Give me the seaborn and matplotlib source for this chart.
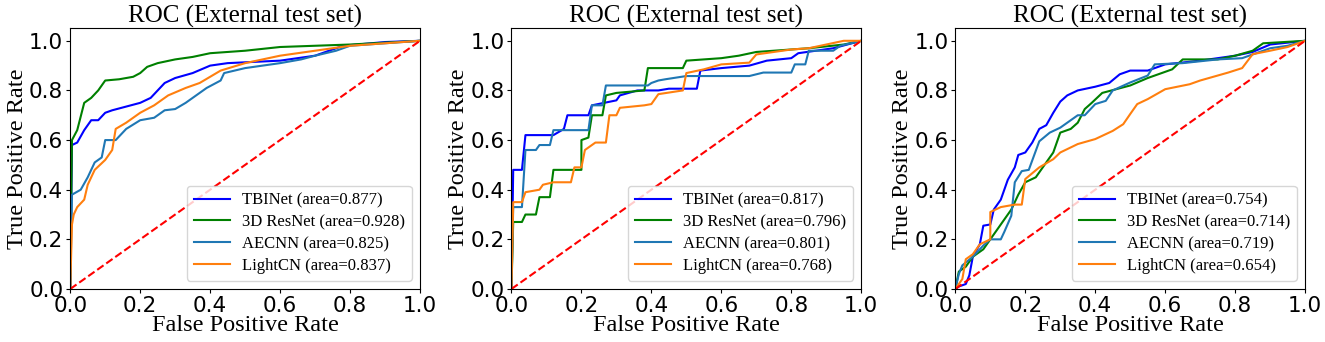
import pandas as pd
import matplotlib.pyplot as plt
import seaborn as sns
import numpy as np

models = ['TBINet', '3D ResNet', 'AECNN', 'LightCN']
colors = {'TBINet': 'blue', '3D ResNet': 'green', 'AECNN': 'tab:blue', 'LightCN': 'tab:orange'}

# areas per panel
auc1 = [0.877, 0.928, 0.825, 0.837]
auc2 = [0.817, 0.796, 0.801, 0.768]
auc3 = [0.754, 0.714, 0.719, 0.654]

# ---- panel 1 ----
tbi1_fpr = [0, 0.005, 0.02, 0.04, 0.06, 0.08, 0.1, 0.12, 0.2, 0.23, 0.27, 0.3, 0.35, 0.4, 0.45, 0.6, 0.7, 0.78, 0.9, 1.0]
tbi1_tpr = [0, 0.58, 0.59, 0.64, 0.68, 0.68, 0.71, 0.72, 0.75, 0.77, 0.83, 0.85, 0.87, 0.9, 0.91, 0.92, 0.94, 0.98, 0.995, 1.0]
res1_fpr = [0, 0.005, 0.02, 0.04, 0.06, 0.08, 0.1, 0.14, 0.18, 0.2, 0.22, 0.25, 0.3, 0.35, 0.4, 0.5, 0.6, 0.8, 1.0]
res1_tpr = [0, 0.6, 0.64, 0.75, 0.77, 0.8, 0.84, 0.845, 0.855, 0.87, 0.895, 0.91, 0.925, 0.935, 0.95, 0.96, 0.975, 0.985, 1.0]
ae1_fpr = [0, 0.005, 0.03, 0.05, 0.07, 0.09, 0.1, 0.13, 0.16, 0.2, 0.24, 0.27, 0.3, 0.33, 0.36, 0.39, 0.43, 0.44, 0.5, 0.6, 0.66, 0.7, 0.76, 0.8, 1.0]
ae1_tpr = [0, 0.38, 0.4, 0.45, 0.51, 0.53, 0.6, 0.6, 0.645, 0.68, 0.69, 0.72, 0.725, 0.75, 0.78, 0.81, 0.84, 0.87, 0.89, 0.91, 0.925, 0.94, 0.96, 0.98, 1.0]
lc1_fpr = [0, 0.005, 0.01, 0.02, 0.04, 0.05, 0.07, 0.1, 0.12, 0.13, 0.16, 0.2, 0.24, 0.28, 0.33, 0.37, 0.4, 0.43, 0.5, 0.6, 0.7, 0.8, 1.0]
lc1_tpr = [0, 0.26, 0.3, 0.33, 0.36, 0.42, 0.48, 0.52, 0.56, 0.645, 0.67, 0.71, 0.74, 0.78, 0.81, 0.83, 0.855, 0.88, 0.91, 0.94, 0.96, 0.98, 1.0]

# ---- panel 2 ----
tbi2_fpr = [0, 0.005, 0.03, 0.04, 0.12, 0.15, 0.16, 0.22, 0.23, 0.3, 0.31, 0.36, 0.42, 0.45, 0.53, 0.54, 0.6, 0.68, 0.73, 0.8, 0.82, 0.92, 0.96, 1.0]
tbi2_tpr = [0, 0.48, 0.48, 0.62, 0.62, 0.645, 0.7, 0.7, 0.74, 0.76, 0.78, 0.8, 0.8, 0.807, 0.807, 0.88, 0.89, 0.9, 0.92, 0.93, 0.95, 0.97, 0.985, 1.0]
res2_fpr = [0, 0.005, 0.03, 0.04, 0.07, 0.08, 0.11, 0.12, 0.2, 0.2, 0.22, 0.23, 0.26, 0.27, 0.3, 0.38, 0.39, 0.49, 0.5, 0.6, 0.65, 0.7, 0.85, 0.95, 1.0]
res2_tpr = [0, 0.27, 0.27, 0.3, 0.3, 0.37, 0.37, 0.48, 0.48, 0.6, 0.61, 0.7, 0.7, 0.78, 0.79, 0.8, 0.89, 0.89, 0.92, 0.93, 0.94, 0.955, 0.97, 0.985, 1.0]
ae2_fpr = [0, 0.005, 0.03, 0.04, 0.07, 0.08, 0.11, 0.12, 0.22, 0.23, 0.26, 0.27, 0.39, 0.4, 0.42, 0.44, 0.5, 0.68, 0.72, 0.8, 0.81, 0.84, 0.85, 0.92, 0.94, 1.0]
ae2_tpr = [0, 0.33, 0.33, 0.56, 0.56, 0.58, 0.58, 0.64, 0.64, 0.74, 0.74, 0.82, 0.82, 0.83, 0.84, 0.845, 0.858, 0.858, 0.872, 0.872, 0.905, 0.905, 0.96, 0.96, 0.98, 1.0]
lc2_fpr = [0, 0.005, 0.03, 0.04, 0.08, 0.09, 0.12, 0.17, 0.18, 0.2, 0.21, 0.23, 0.24, 0.27, 0.28, 0.3, 0.31, 0.38, 0.4, 0.42, 0.49, 0.5, 0.55, 0.6, 0.68, 0.7, 0.8, 0.85, 0.9, 0.95, 1.0]
lc2_tpr = [0, 0.35, 0.35, 0.39, 0.4, 0.42, 0.43, 0.43, 0.49, 0.49, 0.56, 0.58, 0.59, 0.59, 0.7, 0.7, 0.73, 0.74, 0.745, 0.785, 0.8, 0.87, 0.885, 0.905, 0.912, 0.945, 0.965, 0.97, 0.985, 1.0, 1.0]

# ---- panel 3 ----
tbi3_fpr = [0, 0.01, 0.03, 0.04, 0.05, 0.07, 0.08, 0.1, 0.11, 0.13, 0.15, 0.17, 0.18, 0.2, 0.22, 0.24, 0.26, 0.28, 0.3, 0.32, 0.35, 0.4, 0.44, 0.47, 0.5, 0.55, 0.6, 0.7, 0.8, 0.85, 0.9, 1.0]
tbi3_tpr = [0, 0.01, 0.02, 0.055, 0.13, 0.18, 0.255, 0.26, 0.32, 0.36, 0.44, 0.49, 0.54, 0.55, 0.59, 0.645, 0.66, 0.71, 0.755, 0.78, 0.8, 0.815, 0.83, 0.865, 0.88, 0.88, 0.905, 0.92, 0.94, 0.955, 0.985, 1.0]
res3_fpr = [0, 0.01, 0.03, 0.05, 0.08, 0.1, 0.12, 0.14, 0.16, 0.18, 0.2, 0.23, 0.25, 0.27, 0.28, 0.3, 0.33, 0.35, 0.37, 0.39, 0.42, 0.46, 0.5, 0.55, 0.62, 0.65, 0.75, 0.8, 0.85, 0.88, 1.0]
res3_tpr = [0, 0.07, 0.09, 0.13, 0.16, 0.2, 0.24, 0.28, 0.32, 0.38, 0.43, 0.45, 0.49, 0.53, 0.55, 0.63, 0.645, 0.67, 0.725, 0.75, 0.79, 0.805, 0.82, 0.85, 0.885, 0.925, 0.925, 0.94, 0.96, 0.99, 1.0]
ae3_fpr = [0, 0.01, 0.02, 0.05, 0.08, 0.1, 0.13, 0.14, 0.16, 0.17, 0.19, 0.21, 0.24, 0.27, 0.3, 0.35, 0.37, 0.4, 0.43, 0.45, 0.5, 0.55, 0.57, 0.65, 0.75, 0.82, 0.9, 0.95, 1.0]
ae3_tpr = [0, 0.06, 0.095, 0.13, 0.175, 0.2, 0.2, 0.23, 0.295, 0.43, 0.475, 0.48, 0.595, 0.63, 0.65, 0.7, 0.7, 0.745, 0.758, 0.8, 0.832, 0.86, 0.905, 0.91, 0.925, 0.93, 0.97, 0.98, 1.0]
lc3_fpr = [0, 0.02, 0.03, 0.05, 0.07, 0.1, 0.1, 0.13, 0.17, 0.19, 0.2, 0.24, 0.28, 0.3, 0.35, 0.4, 0.45, 0.48, 0.5, 0.52, 0.55, 0.6, 0.67, 0.7, 0.78, 0.82, 0.85, 0.9, 0.95, 1.0]
lc3_tpr = [0, 0.04, 0.12, 0.14, 0.18, 0.2, 0.31, 0.33, 0.34, 0.34, 0.443, 0.49, 0.523, 0.55, 0.584, 0.604, 0.637, 0.664, 0.705, 0.745, 0.765, 0.805, 0.825, 0.84, 0.872, 0.89, 0.946, 0.96, 0.975, 1.0]

panels = [
    ([tbi1_fpr, res1_fpr, ae1_fpr, lc1_fpr], [tbi1_tpr, res1_tpr, ae1_tpr, lc1_tpr], auc1),
    ([tbi2_fpr, res2_fpr, ae2_fpr, lc2_fpr], [tbi2_tpr, res2_tpr, ae2_tpr, lc2_tpr], auc2),
    ([tbi3_fpr, res3_fpr, ae3_fpr, lc3_fpr], [tbi3_tpr, res3_tpr, ae3_tpr, lc3_tpr], auc3),
]

serif = ['Liberation Serif', 'DejaVu Serif']

fig = plt.figure(figsize=(13.25, 3.42), dpi=100)
lefts = [0.053, 0.386, 0.721]

for i, (fprs, tprs, aucs) in enumerate(panels):
    ax = fig.add_axes([lefts[i], 0.155, 0.264, 0.762])
    for m, f, t, a in zip(models, fprs, tprs, aucs):
        df = pd.DataFrame({'fpr': f, 'tpr': t})
        sns.lineplot(data=df, x='fpr', y='tpr', ax=ax, sort=False, estimator=None,
                     color=colors[m], lw=1.5, label='%s (area=%.3f)' % (m, a))
    ax.plot([0, 1], [0, 1], 'r--', lw=1.5)
    ax.set_xlim(0, 1.0)
    ax.set_ylim(0, 1.05)
    ax.set_xticks([0, 0.2, 0.4, 0.6, 0.8, 1.0])
    ax.set_yticks([0, 0.2, 0.4, 0.6, 0.8, 1.0])
    ax.tick_params(labelsize=15.5, length=3, pad=2)
    ax.set_xlabel('False Positive Rate', fontsize=17.5, family=serif, labelpad=-1)
    ax.set_ylabel('True Positive Rate', fontsize=17.5, family=serif, labelpad=1)
    ax.set_title('ROC (External test set)', fontsize=18, family=serif, pad=3)
    ax.legend(loc='lower right', prop={'family': serif, 'size': 12},
              handlelength=2.2, handletextpad=0.7, labelspacing=0.35)

plt.savefig('out.png', dpi=100)
